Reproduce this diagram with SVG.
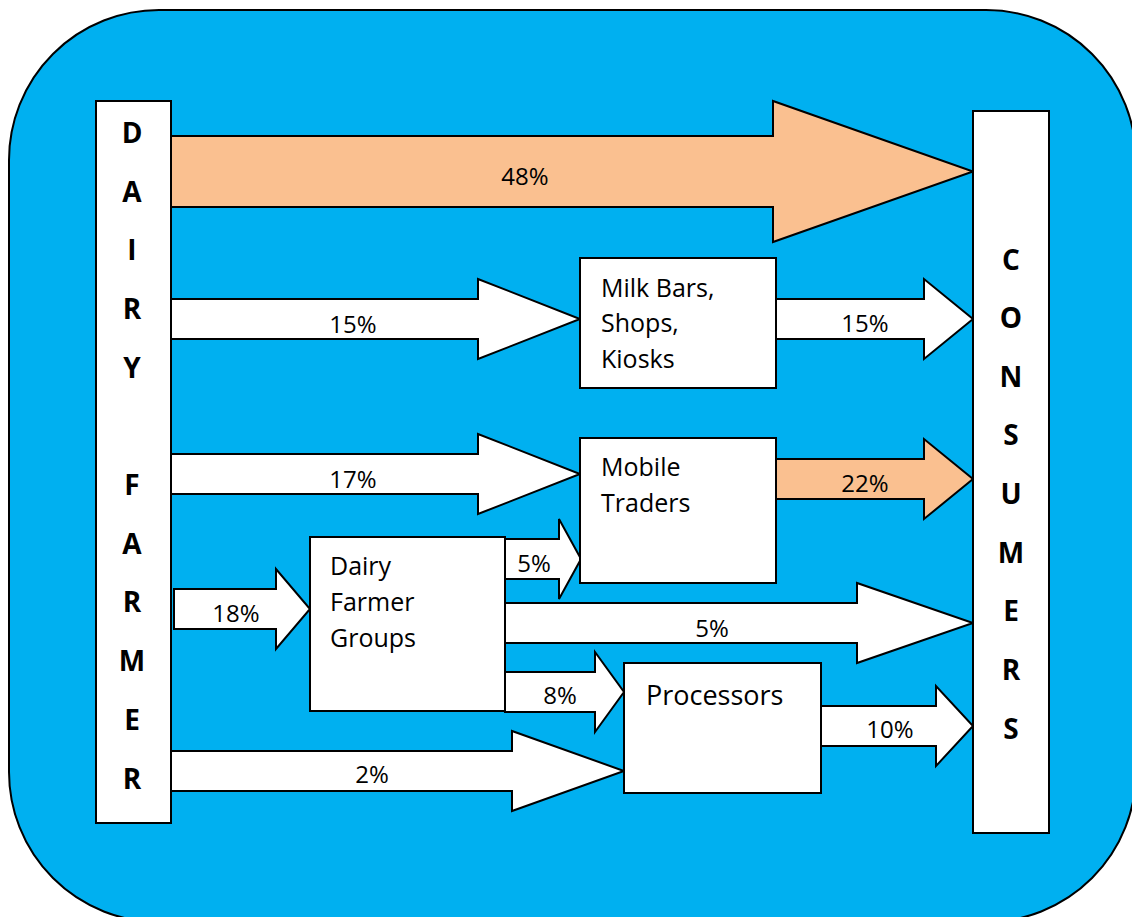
<svg xmlns="http://www.w3.org/2000/svg" width="1132" height="917" viewBox="0 0 1132 917">
  <style>
    .bg { fill: #00B0F0; stroke: #000; stroke-width: 2; }
    .box { fill: #fff; stroke: #000; stroke-width: 2; }
    .arrow { fill: #fff; stroke: #000; stroke-width: 2; stroke-linejoin: miter; }
    .arrow.hot { fill: #FAC090; }
    .pct { font-family: "Open Sans", "Liberation Sans", sans-serif; font-size: 24px; fill: #000; text-anchor: middle; }
    .lbl { font-family: "Open Sans", "Liberation Sans", sans-serif; font-size: 25px; fill: #000; }
    text.vert { font-family: "Open Sans", "Liberation Sans", sans-serif; font-size: 28px; font-weight: 700; fill: #000; text-anchor: middle; }
  </style>

  <!-- rounded backdrop panel -->
  <rect class="bg" x="9" y="10" width="1127" height="912" rx="150" ry="150"/>

  <!-- flow arrows with their shares -->
  <g id="connectors">
    <polygon class="arrow hot" points="171,136 773,136 773,101 973,171.5 773,242 773,207 171,207"/>
    <text class="pct" x="525" y="185">48%</text>

    <polygon class="arrow" points="171,299 478,299 478,279 580,319 478,359 478,339 171,339"/>
    <text class="pct" x="353" y="333">15%</text>

    <polygon class="arrow" points="776,299 924,299 924,279 973,319 924,359 924,339 776,339"/>
    <text class="pct" x="865" y="332">15%</text>

    <polygon class="arrow" points="171,454 478,454 478,434 580,474 478,514 478,494 171,494"/>
    <text class="pct" x="353" y="488">17%</text>

    <polygon class="arrow hot" points="776,459 924,459 924,439 973,479 924,519 924,499 776,499"/>
    <text class="pct" x="865" y="492">22%</text>

    <polygon class="arrow" points="174,589 276,589 276,569 310,609 276,649 276,629 174,629"/>
    <text class="pct" x="236" y="622">18%</text>

    <polygon class="arrow" points="505,539 559,539 559,519 581,559 559,599 559,579 505,579"/>
    <text class="pct" x="534" y="572">5%</text>

    <polygon class="arrow" points="505,603 857,603 857,583 973,623 857,663 857,643 505,643"/>
    <text class="pct" x="712" y="637">5%</text>

    <polygon class="arrow" points="505,672 595,672 595,652 624,692 595,732 595,712 505,712"/>
    <text class="pct" x="560" y="704">8%</text>

    <polygon class="arrow" points="821,706 936,706 936,686 973,726 936,766 936,746 821,746"/>
    <text class="pct" x="890" y="738">10%</text>

    <polygon class="arrow" points="171,751 512,751 512,731 624,771 512,811 512,791 171,791"/>
    <text class="pct" x="372" y="783">2%</text>
  </g>

  <!-- source column -->
  <g id="dairy-farmer">
    <rect class="box" x="96" y="101" width="75" height="722"/>
    <text class="vert" x="132" y="143">D</text>
    <text class="vert" x="132" y="202">A</text>
    <text class="vert" x="132" y="260">I</text>
    <text class="vert" x="132" y="319">R</text>
    <text class="vert" x="132" y="378">Y</text>
    <text class="vert" x="132" y="495">F</text>
    <text class="vert" x="132" y="554">A</text>
    <text class="vert" x="132" y="612">R</text>
    <text class="vert" x="132" y="671">M</text>
    <text class="vert" x="132" y="730">E</text>
    <text class="vert" x="132" y="789">R</text>
  </g>

  <!-- sink column -->
  <g id="consumers">
    <rect class="box" x="973" y="111" width="76" height="722"/>
    <text class="vert" x="1011" y="270">C</text>
    <text class="vert" x="1011" y="328">O</text>
    <text class="vert" x="1011" y="387">N</text>
    <text class="vert" x="1011" y="445">S</text>
    <text class="vert" x="1011" y="504">U</text>
    <text class="vert" x="1011" y="563">M</text>
    <text class="vert" x="1011" y="621">E</text>
    <text class="vert" x="1011" y="680">R</text>
    <text class="vert" x="1011" y="739">S</text>
  </g>

  <g id="milk-bars">
    <rect class="box" x="580" y="258" width="196" height="130"/>
    <text class="lbl" x="601" y="297">Milk Bars,</text>
    <text class="lbl" x="601" y="332">Shops,</text>
    <text class="lbl" x="601" y="368">Kiosks</text>
  </g>

  <g id="mobile-traders">
    <rect class="box" x="580" y="438" width="196" height="145"/>
    <text class="lbl" x="601" y="476">Mobile</text>
    <text class="lbl" x="601" y="512">Traders</text>
  </g>

  <g id="farmer-groups">
    <rect class="box" x="310" y="537" width="195" height="174"/>
    <text class="lbl" x="330" y="575">Dairy</text>
    <text class="lbl" x="330" y="611">Farmer</text>
    <text class="lbl" x="330" y="647">Groups</text>
  </g>

  <g id="processors">
    <rect class="box" x="624" y="663" width="197" height="130"/>
    <text class="lbl" x="646" y="705" style="font-size:27px">Processors</text>
  </g>
</svg>
